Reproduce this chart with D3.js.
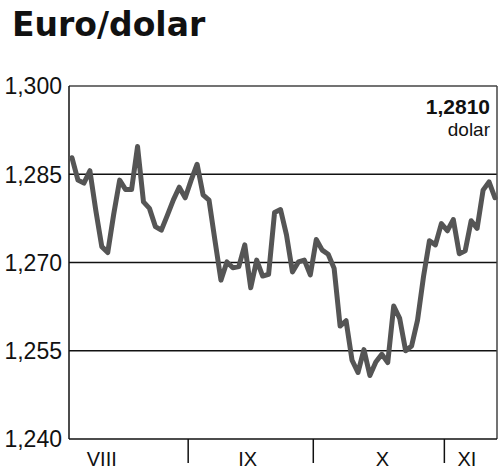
<!DOCTYPE html>
<html>
<head>
<meta charset="utf-8">
<script src="https://cdn.jsdelivr.net/npm/d3@7"></script>
<style>
  html, body { margin: 0; padding: 0; background: #fff; }
  svg { display: block; }
</style>
</head>
<body>
<div id="chart"></div>
<script>
// ---- data ----
const title = "Euro/dolar";
const rates = [
  1.2878, 1.2840, 1.2835, 1.2856, 1.2788, 1.2727, 1.2717, 1.2782, 1.2840, 1.2824,
  1.2824, 1.2897, 1.2803, 1.2792, 1.2761, 1.2755, 1.2780, 1.2806, 1.2828, 1.2810,
  1.2840, 1.2867, 1.2815, 1.2806, 1.2737, 1.2670, 1.2701, 1.2691, 1.2693, 1.2730,
  1.2657, 1.2704, 1.2677, 1.2680, 1.2785, 1.2790, 1.2747, 1.2684, 1.2701, 1.2704,
  1.2679, 1.2739, 1.2721, 1.2714, 1.2690, 1.2592, 1.2601, 1.2534, 1.2513, 1.2552,
  1.2508, 1.2531, 1.2544, 1.2530, 1.2626, 1.2605, 1.2550, 1.2558, 1.2602, 1.2676,
  1.2737, 1.2730, 1.2766, 1.2754, 1.2773, 1.2715, 1.2720, 1.2771, 1.2758, 1.2823,
  1.2837, 1.2810
];
const yTicks = [1.240, 1.255, 1.270, 1.285, 1.300];
const monthLabels = ["VIII", "IX", "X", "XI"];
const monthLabelPos = [5.0, 29.5, 52.1, 66.3];   // in trading-day index units
const monthBoundaries = [19.5, 40.5, 62.5];      // in trading-day index units
const lastValueText = "1,2810";
const unitText = "dolar";

// ---- layout ----
const W = 500, H = 473;
const frame = { left: 69, right: 497, top: 86, bottom: 439 };

const svg = d3.select("#chart").append("svg")
  .attr("width", W).attr("height", H);

const x = d3.scaleLinear().domain([0, rates.length - 1]).range([72, 495]);
const y = d3.scaleLinear().domain([1.240, 1.300]).range([frame.bottom, frame.top]);

const fmt = v => d3.format(".3f")(v).replace(".", ",");

// Title
svg.append("text")
  .attr("x", 12).attr("y", 36)
  .attr("font-family", "DejaVu Sans, sans-serif")
  .attr("font-weight", "bold")
  .attr("font-size", 33)
  .attr("fill", "#111")
  .text(title);

// Gridlines (inner)
svg.append("g").selectAll("line")
  .data(yTicks.filter(t => t > 1.240 && t < 1.300))
  .join("line")
  .attr("x1", frame.left).attr("x2", frame.right)
  .attr("y1", d => y(d)).attr("y2", d => y(d))
  .attr("stroke", "#111").attr("stroke-width", 1.5);

// Frame: top and right border
svg.append("line")
  .attr("x1", frame.left).attr("x2", frame.right)
  .attr("y1", y(1.300)).attr("y2", y(1.300))
  .attr("stroke", "#444").attr("stroke-width", 1.5);
svg.append("line")
  .attr("x1", frame.right).attr("x2", frame.right)
  .attr("y1", frame.top).attr("y2", frame.bottom)
  .attr("stroke", "#444").attr("stroke-width", 1.5);

// Left axis and bottom axis lines
svg.append("line")
  .attr("x1", frame.left).attr("x2", frame.left)
  .attr("y1", frame.top).attr("y2", frame.bottom)
  .attr("stroke", "#111").attr("stroke-width", 1.5);
svg.append("line")
  .attr("x1", frame.left).attr("x2", frame.right)
  .attr("y1", frame.bottom).attr("y2", frame.bottom)
  .attr("stroke", "#111").attr("stroke-width", 1.5);

// Y tick labels
svg.append("g").selectAll("text")
  .data(yTicks)
  .join("text")
  .attr("x", 62)
  .attr("y", d => y(d))
  .attr("dy", "0.36em")
  .attr("text-anchor", "end")
  .attr("font-family", "Liberation Sans, Arial, sans-serif")
  .attr("font-size", 23)
  .attr("fill", "#111")
  .text(fmt);

// Month separators
svg.append("g").selectAll("line")
  .data(monthBoundaries)
  .join("line")
  .attr("x1", d => x(d)).attr("x2", d => x(d))
  .attr("y1", frame.bottom).attr("y2", frame.bottom + 24)
  .attr("stroke", "#111").attr("stroke-width", 1.5);

// Month labels
svg.append("g").selectAll("text")
  .data(monthLabels)
  .join("text")
  .attr("x", (d, i) => x(monthLabelPos[i]))
  .attr("y", 466)
  .attr("text-anchor", "middle")
  .attr("font-family", "Liberation Sans, Arial, sans-serif")
  .attr("font-size", 20)
  .attr("fill", "#111")
  .text(d => d);

// Line
const line = d3.line()
  .x((d, i) => x(i))
  .y(d => y(d));

svg.append("path")
  .datum(rates)
  .attr("d", line)
  .attr("fill", "none")
  .attr("stroke", "#555")
  .attr("stroke-width", 5)
  .attr("stroke-linejoin", "round")
  .attr("stroke-linecap", "round");

// Last value annotation
svg.append("text")
  .attr("x", 490).attr("y", 114)
  .attr("text-anchor", "end")
  .attr("font-family", "Liberation Sans, Arial, sans-serif")
  .attr("font-weight", "bold")
  .attr("font-size", 21)
  .attr("fill", "#111")
  .text(lastValueText);
svg.append("text")
  .attr("x", 490).attr("y", 136)
  .attr("text-anchor", "end")
  .attr("font-family", "Liberation Sans, Arial, sans-serif")
  .attr("font-size", 19)
  .attr("fill", "#111")
  .text(unitText);
</script>
</body>
</html>
